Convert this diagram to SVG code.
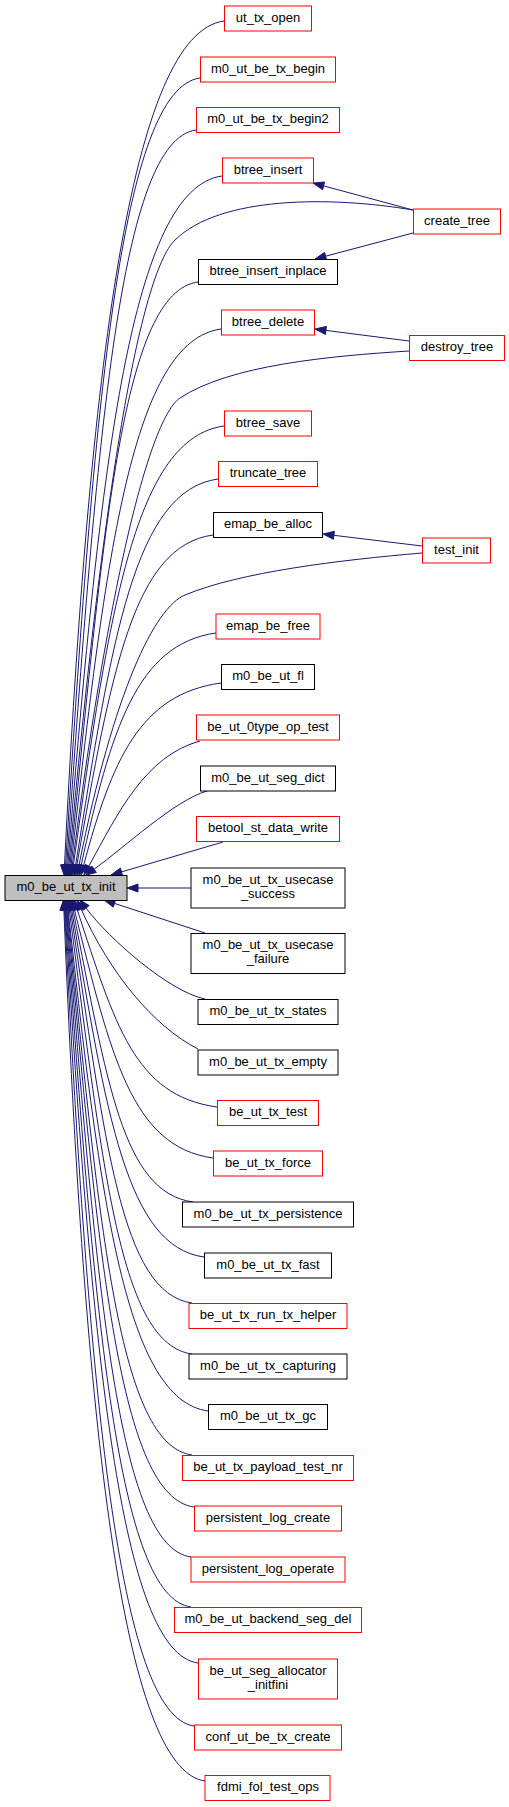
<svg xmlns="http://www.w3.org/2000/svg" width="509" height="1807" viewBox="0 0 509 1807">
<style>
.n rect{fill:#ffffff;stroke-width:1}
.r rect{stroke:#ff0000}
.k rect{stroke:#000000}
.t rect{fill:#bfbfbf;stroke:#000000}
text{font-family:"Liberation Sans",Arial,Helvetica,sans-serif;font-size:13px;fill:#000000;text-anchor:middle}
#edges path{fill:none;stroke:#191970;stroke-width:1}
#edges polygon{fill:#191970;stroke:#191970;stroke-width:1}
</style>
<rect x="0" y="0" width="509" height="1807" fill="#ffffff"/>
<g id="edges">
<path d="M224,21 C131.2,33.8 89.6,362.6 64.5,865"/><polygon points="64,875 68.5,865.2 60.5,864.8"/>
<path d="M200,78 C121.7,88.8 93.7,396.8 65.6,865"/><polygon points="65,875 69.6,865.2 61.6,864.8"/>
<path d="M196,130 C120.6,140.4 97.3,428 66.7,865"/><polygon points="66,875 70.7,865.3 62.7,864.7"/>
<path d="M222,176 C132.1,188.4 100.6,455.6 67.8,865"/><polygon points="67,875 71.8,865.3 63.8,864.7"/>
<path d="M413,210 C330,196 220,196 175,240 C140,274 102.7,490 68.9,865"/><polygon points="68,875 72.9,865.4 64.9,864.6"/>
<path d="M198,282 C123.2,292.3 104.6,519.2 70,865"/><polygon points="69,875 74,865.4 66,864.6"/>
<path d="M221,329 C133.4,341.1 106,547.4 71.1,865.1"/><polygon points="70,875 75.1,865.5 67.1,864.6"/>
<path d="M409,351 C330,356 230,365 180,398 C150,418 109,580 72.3,865.1"/><polygon points="71,875 76.3,865.6 68.3,864.6"/>
<path d="M224,426 C135.8,438.2 109.7,605.6 73.4,865.1"/><polygon points="72,875 77.4,865.6 69.4,864.5"/>
<path d="M218,479 C134.5,490.5 112,637.4 75.6,865.1"/><polygon points="74,875 79.5,865.7 71.6,864.5"/>
<path d="M213,535 C133,546 111.7,671 76.8,865.2"/><polygon points="75,875 80.7,865.9 72.9,864.5"/>
<path d="M422,553 C340,560 240,572 185,595 C155,607.5 114,689.6 79,865.2"/><polygon points="77,875 82.9,866 75.1,864.4"/>
<path d="M216,633 C136.5,644 111,729.8 81.1,865.2"/><polygon points="79,875 85,866.1 77.2,864.3"/>
<path d="M221,683 C139.8,694.2 112.1,759.8 83.6,865.3"/><polygon points="81,875 87.5,866.3 79.7,864.3"/>
<path d="M200,741 C145,756 117.7,813.6 88.8,866.2"/><polygon points="84,875 92.3,868.1 85.3,864.3"/>
<path d="M207,791 C175,800 125,847 94.1,869.2"/><polygon points="86,875 96.4,872.5 91.8,866"/>
<path d="M223,842 L121.5,871.9"/><polygon points="111,875 122.6,875.7 120.4,868.1"/>
<path d="M413,210 L323.6,185.9"/><polygon points="313,183 322.6,189.8 324.6,182"/>
<path d="M413,233 L325.6,256.2"/><polygon points="315,259 326.6,260.1 324.6,252.3"/>
<path d="M409,341 L325.9,330.4"/><polygon points="315,329 325.4,334.4 326.4,326.4"/>
<path d="M422,546 L333.9,535.3"/><polygon points="323,534 333.4,539.3 334.4,531.3"/>
<path d="M191,888 L138,888"/><polygon points="127,888 138,884 138,892"/>
<path d="M205,933 L114.5,903.4"/><polygon points="104,900 113.2,907.2 115.7,899.6"/>
<path d="M205,999 C170,992 110,940 86,908"/><polygon points="80,900 82.8,910.4 89.2,905.6"/>
<path d="M198,1049 C153,1026 109.8,972.9 81.1,909.1"/><polygon points="77,900 77.5,910.7 84.8,907.5"/>
<path d="M217,1107 C134.1,1095.6 115,1024.2 77.1,909.5"/><polygon points="74,900 73.3,910.8 80.9,908.3"/>
<path d="M213,1158 C131.2,1146.7 110.7,1054.8 74.4,909.7"/><polygon points="72,900 70.5,910.7 78.3,908.7"/>
<path d="M193,1202 C122.2,1192.2 107.2,1081.2 73,909.8"/><polygon points="71,900 69.1,910.6 76.9,909"/>
<path d="M204,1257 C126.3,1246.3 106.4,1114.2 71.7,909.9"/><polygon points="70,900 67.7,910.6 75.6,909.2"/>
<path d="M192,1303 C120.7,1293.2 105.3,1141.8 70.5,909.9"/><polygon points="69,900 66.5,910.5 74.4,909.3"/>
<path d="M192,1354 C120.1,1344.1 103.4,1172.4 69.3,909.9"/><polygon points="68,900 65.3,910.4 73.3,909.4"/>
<path d="M208,1411 C126.2,1399.7 100.7,1206.6 68.1,909.9"/><polygon points="67,900 64.1,910.3 72.1,909.5"/>
<path d="M192,1455 C119.2,1445 99.8,1233 67.5,910"/><polygon points="66.5,900 63.5,910.4 71.5,909.6"/>
<path d="M194,1507 C119.8,1496.8 98.8,1264.2 66.9,910"/><polygon points="66,900 62.9,910.4 70.9,909.6"/>
<path d="M191,1557 C118.2,1547 97,1294.2 66.3,910"/><polygon points="65.5,900 62.3,910.3 70.3,909.7"/>
<path d="M191,1607 C117.9,1596.9 94.7,1324.2 65.7,910"/><polygon points="65,900 61.7,910.3 69.7,909.7"/>
<path d="M198,1663 C120.6,1652.3 92,1357.8 65.1,910"/><polygon points="64.5,900 61.1,910.2 69.1,909.8"/>
<path d="M194,1726 C118.6,1715.6 88.8,1395.6 64.5,910"/><polygon points="64,900 60.5,910.2 68.5,909.8"/>
<path d="M205,1781 C122.9,1769.7 84.6,1428.6 63.9,910"/><polygon points="63.5,900 59.9,910.2 67.9,909.8"/>
</g>
<g id="node-m0_be_ut_tx_init" class="n t"><rect x="5" y="875.5" width="122" height="25"/><text x="66" y="891">m0_be_ut_tx_init</text></g>
<g id="node-ut_tx_open" class="n r"><rect x="224.5" y="6" width="87" height="25"/><text x="268" y="21.5">ut_tx_open</text></g>
<g id="node-m0_ut_be_tx_begin" class="n r"><rect x="200.5" y="57" width="135" height="25"/><text x="268" y="72.5">m0_ut_be_tx_begin</text></g>
<g id="node-m0_ut_be_tx_begin2" class="n r"><rect x="196.5" y="107.5" width="143" height="25"/><text x="268" y="123">m0_ut_be_tx_begin2</text></g>
<g id="node-btree_insert" class="n r"><rect x="222.5" y="158" width="91" height="25"/><text x="268" y="173.5">btree_insert</text></g>
<g id="node-create_tree" class="n r"><rect x="413.5" y="209" width="87" height="25"/><text x="457" y="224.5">create_tree</text></g>
<g id="node-btree_insert_inplace" class="n k"><rect x="198.5" y="259.5" width="139" height="25"/><text x="268" y="275">btree_insert_inplace</text></g>
<g id="node-btree_delete" class="n r"><rect x="221.5" y="310" width="93" height="25"/><text x="268" y="325.5">btree_delete</text></g>
<g id="node-destroy_tree" class="n r"><rect x="409.5" y="335.5" width="95" height="25"/><text x="457" y="351">destroy_tree</text></g>
<g id="node-btree_save" class="n r"><rect x="224.5" y="411" width="87" height="25"/><text x="268" y="426.5">btree_save</text></g>
<g id="node-truncate_tree" class="n r"><rect x="218.5" y="461.5" width="99" height="25"/><text x="268" y="477">truncate_tree</text></g>
<g id="node-emap_be_alloc" class="n k"><rect x="213.5" y="512.5" width="109" height="25"/><text x="268" y="528">emap_be_alloc</text></g>
<g id="node-test_init" class="n r"><rect x="422.5" y="538" width="68" height="25"/><text x="456.5" y="553.5">test_init</text></g>
<g id="node-emap_be_free" class="n r"><rect x="216" y="614" width="104" height="25"/><text x="268" y="629.5">emap_be_free</text></g>
<g id="node-m0_be_ut_fl" class="n k"><rect x="221.5" y="664.5" width="93" height="25"/><text x="268" y="680">m0_be_ut_fl</text></g>
<g id="node-be_ut_0type_op_test" class="n r"><rect x="196.5" y="715" width="143" height="25"/><text x="268" y="730.5">be_ut_0type_op_test</text></g>
<g id="node-m0_be_ut_seg_dict" class="n k"><rect x="200.5" y="766" width="135" height="25"/><text x="268" y="781.5">m0_be_ut_seg_dict</text></g>
<g id="node-betool_st_data_write" class="n r"><rect x="196.5" y="816.5" width="143" height="25"/><text x="268" y="832">betool_st_data_write</text></g>
<g id="node-m0_be_ut_tx_usecase_success" class="n k"><rect x="191" y="868" width="154" height="40"/><text x="268" y="883.5">m0_be_ut_tx_usecase</text><text x="268" y="897.5">_success</text></g>
<g id="node-m0_be_ut_tx_usecase_failure" class="n k"><rect x="191" y="933.5" width="154" height="40"/><text x="268" y="949">m0_be_ut_tx_usecase</text><text x="268" y="963">_failure</text></g>
<g id="node-m0_be_ut_tx_states" class="n k"><rect x="198" y="999.5" width="140" height="25"/><text x="268" y="1015">m0_be_ut_tx_states</text></g>
<g id="node-m0_be_ut_tx_empty" class="n k"><rect x="198" y="1050" width="140" height="25"/><text x="268" y="1065.5">m0_be_ut_tx_empty</text></g>
<g id="node-be_ut_tx_test" class="n r"><rect x="217.5" y="1100.5" width="101" height="25"/><text x="268" y="1116">be_ut_tx_test</text></g>
<g id="node-be_ut_tx_force" class="n r"><rect x="213.5" y="1151" width="109" height="25"/><text x="268" y="1166.5">be_ut_tx_force</text></g>
<g id="node-m0_be_ut_tx_persistence" class="n k"><rect x="182.5" y="1202" width="171" height="25"/><text x="268" y="1217.5">m0_be_ut_tx_persistence</text></g>
<g id="node-m0_be_ut_tx_fast" class="n k"><rect x="204.5" y="1253" width="127" height="25"/><text x="268" y="1268.5">m0_be_ut_tx_fast</text></g>
<g id="node-be_ut_tx_run_tx_helper" class="n r"><rect x="189" y="1303.5" width="158" height="25"/><text x="268" y="1319">be_ut_tx_run_tx_helper</text></g>
<g id="node-m0_be_ut_tx_capturing" class="n k"><rect x="189" y="1354" width="158" height="25"/><text x="268" y="1369.5">m0_be_ut_tx_capturing</text></g>
<g id="node-m0_be_ut_tx_gc" class="n k"><rect x="208.5" y="1404.5" width="119" height="25"/><text x="268" y="1420">m0_be_ut_tx_gc</text></g>
<g id="node-be_ut_tx_payload_test_nr" class="n r"><rect x="182.5" y="1455.5" width="171" height="25"/><text x="268" y="1471">be_ut_tx_payload_test_nr</text></g>
<g id="node-persistent_log_create" class="n r"><rect x="194.5" y="1506" width="147" height="25"/><text x="268" y="1521.5">persistent_log_create</text></g>
<g id="node-persistent_log_operate" class="n r"><rect x="191" y="1557" width="154" height="25"/><text x="268" y="1572.5">persistent_log_operate</text></g>
<g id="node-m0_be_ut_backend_seg_del" class="n r"><rect x="174.5" y="1607.5" width="187" height="25"/><text x="268" y="1623">m0_be_ut_backend_seg_del</text></g>
<g id="node-be_ut_seg_allocator_initfini" class="n r"><rect x="198.5" y="1659" width="139" height="40"/><text x="268" y="1674.5">be_ut_seg_allocator</text><text x="268" y="1688.5">_initfini</text></g>
<g id="node-conf_ut_be_tx_create" class="n r"><rect x="194.5" y="1725" width="147" height="25"/><text x="268" y="1740.5">conf_ut_be_tx_create</text></g>
<g id="node-fdmi_fol_test_ops" class="n r"><rect x="205" y="1775.5" width="125" height="25"/><text x="268" y="1791">fdmi_fol_test_ops</text></g>
</svg>
